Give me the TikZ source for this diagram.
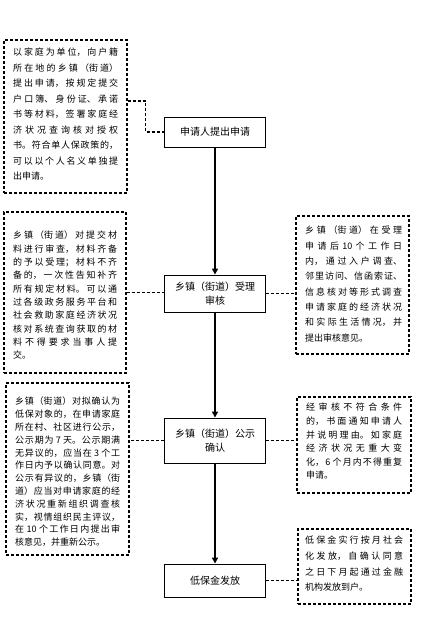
\documentclass[tikz,border=0pt]{standalone}
\usepackage{fontspec}
\setmainfont{Noto Sans CJK SC}
\usetikzlibrary{arrows.meta}
\XeTeXlinebreaklocale "zh"
\XeTeXlinebreakskip=0pt plus 3pt
\tolerance=9999
\hbadness=10000
\tikzset{
  mainbox/.style={draw, line width=0.9pt, minimum width=101pt, inner sep=0pt, align=center, font=\fontsize{10}{14}\selectfont},
  sidebox/.style={draw, line width=1.3pt, dash pattern=on 3pt off 2pt, inner sep=0pt},
  sidetext/.style={anchor=north west, inner sep=0pt, align=justify},
  conn/.style={line width=1.5pt, dash pattern=on 3pt off 2pt},
  flow/.style={line width=2pt, -{Triangle[width=6pt,length=6pt]}},
}
\begin{document}
\begin{tikzpicture}[x=1pt,y=-1pt]
\useasboundingbox (0,0) rectangle (442,639);
% main flow
\node[mainbox, minimum height=30pt] (m1) at (215,132) {申请人提出申请};
\node[mainbox, minimum height=37pt] (m2) at (215,293.5) {乡镇（街道）受理\\审核};
\node[mainbox, minimum height=45pt] (m3) at (215,440.5) {乡镇（街道）公示\\确认};
\node[mainbox, minimum height=33pt] (m4) at (215,580.5) {低保金发放};
% side boxes
\node[sidebox, minimum width=123pt, minimum height=153pt] (b1) at (65.5,116.5) {};
\node[sidetext, text width=105pt, font=\fontsize{9}{15.5}\selectfont] (t1) at (13,48) {以家庭为单位，向户籍\linebreak 所在地的乡镇（街道）\linebreak 提出申请，按规定提交\linebreak 户口簿、身份证、承诺\linebreak 书等材料，签署家庭经\linebreak 济状况查询核对授权\linebreak 书。符合单人保政策的，\linebreak 可以以个人名义单独提\linebreak 出申请。};
\node[sidebox, minimum width=122pt, minimum height=161pt] (l2) at (65,292.5) {};
\node[sidetext, text width=104pt, font=\fontsize{9}{13.3}\selectfont] (t2) at (13,231) {乡镇（街道）对提交材\linebreak 料进行审查，材料齐备\linebreak 的予以受理；材料不齐\linebreak 备的，一次性告知补齐\linebreak 所有规定材料。可以通\linebreak 过各级政务服务平台和\linebreak 社会救助家庭经济状况\linebreak 核对系统查询获取的材\linebreak 料不得要求当事人提\linebreak 交。};
\node[sidebox, minimum width=113pt, minimum height=138pt] (r2) at (352.5,285) {};
\node[sidetext, text width=97pt, font=\fontsize{9}{15.3}\selectfont] (t3) at (305,226) {乡镇（街道）在受理\linebreak 申请后 10 个工作日\linebreak 内，通过入户调查、\linebreak 邻里访问、信函索证、\linebreak 信息核对等形式调查\linebreak 申请家庭的经济状况\linebreak 和实际生活情况，并\linebreak 提出审核意见。};
\node[sidebox, minimum width=123pt, minimum height=172pt] (l3) at (67.5,469) {};
\node[sidetext, text width=105pt, font=\fontsize{9}{12.8}\selectfont] (t4) at (15,397) {乡镇（街道）对拟确认为\linebreak 低保对象的，在申请家庭\linebreak 所在村、社区进行公示，\linebreak 公示期为 7 天。公示期满\linebreak 无异议的，应当在 3 个工\linebreak 作日内予以确认同意。对\linebreak 公示有异议的，乡镇（街\linebreak 道）应当对申请家庭的经\linebreak 济状况重新组织调查核\linebreak 实，视情组织民主评议，\linebreak 在 10 个工作日内提出审\linebreak 核意见，并重新公示。};
\node[sidebox, minimum width=114pt, minimum height=96pt] (r3) at (354,445) {};
\node[sidetext, text width=96pt, font=\fontsize{9}{13.6}\selectfont] (t5) at (306,403) {经审核不符合条件\linebreak 的，书面通知申请人\linebreak 并说明理由。如家庭\linebreak 经济状况无重大变\linebreak 化，6 个月内不得重复\linebreak 申请。};
\node[sidebox, minimum width=113pt, minimum height=75pt] (r4) at (354.5,566.5) {};
\node[sidetext, text width=98pt, font=\fontsize{9}{15.7}\selectfont] (t6) at (305,536) {低保金实行按月社会\linebreak 化发放，自确认同意\linebreak 之日下月起通过金融\linebreak 机构发放到户。};
% flow arrows
\draw[flow] (m1) -- (m2);
\draw[flow] (m2) -- (m3);
\draw[flow] (m3) -- (m4);
% dashed connectors
\draw[conn] ([yshift=15.5pt]b1.east) -- ++(18,0) |- (m1.west);
\draw[conn] (l2.east) -- (l2.east -| m2.west);
\draw[conn] (m2.east) -- (m2.east -| r2.west);
\draw[conn] (m3.west) -- (m3.west -| l3.east);
\draw[conn] (m3.east) -- (m3.east -| r3.west);
\draw[conn] (m4.east) -- (m4.east -| r4.west);
\end{tikzpicture}
\end{document}
